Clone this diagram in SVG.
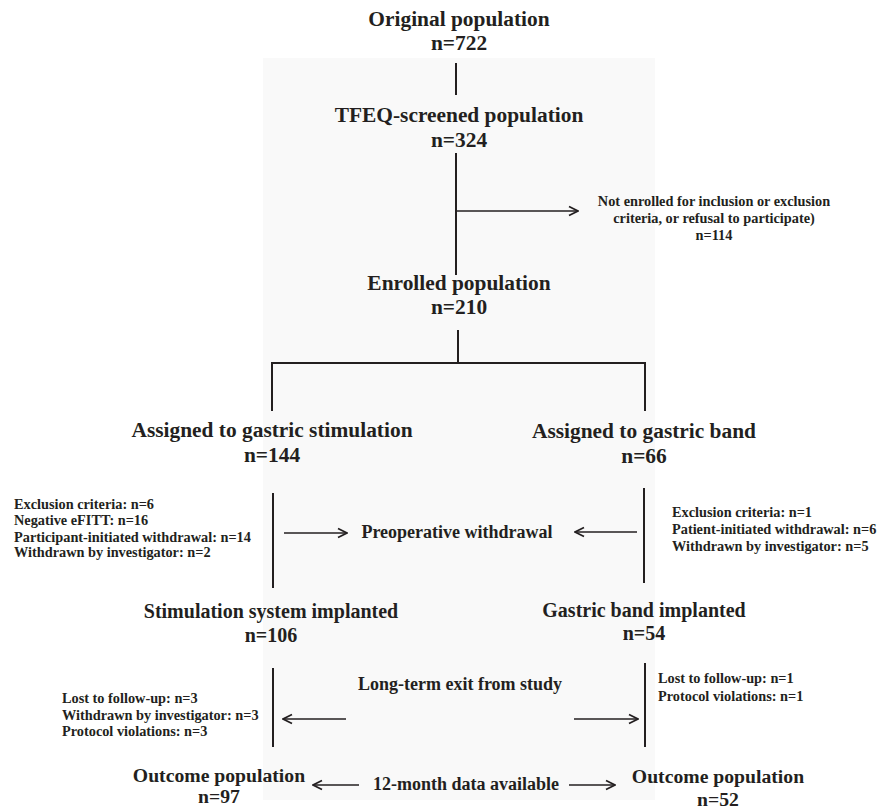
<svg xmlns="http://www.w3.org/2000/svg" width="877" height="809" viewBox="0 0 877 809">
<style>
text{font-family:'Liberation Serif','Times New Roman',serif;font-weight:bold;fill:#231f20}
.h{font-size:21.4px;text-anchor:middle}
.h2{font-size:20px;text-anchor:middle}
.h3{font-size:19.7px;text-anchor:middle}
.s{font-size:14.3px}
.sc{font-size:14.3px;text-anchor:middle}
.m{font-size:18px;text-anchor:middle}
.ln{stroke:#231f20;stroke-width:2;fill:none}
.ar{stroke:#231f20;stroke-width:1.7;fill:none;marker-end:url(#ah)}
</style>
<defs>
<marker id="ah" viewBox="0 0 12 12" refX="11" refY="6" markerWidth="12" markerHeight="12" markerUnits="userSpaceOnUse" orient="auto">
<path d="M2,1.5 L11,6 L2,10.5" fill="none" stroke="#231f20" stroke-width="1.7"/>
</marker>
</defs>
<rect width="877" height="809" fill="#ffffff"/>
<rect x="263" y="58" width="392" height="742" fill="#f9f9f9"/>
<g id="connectors">
<line class="ln" x1="456" y1="63" x2="456" y2="95"/>
<line class="ln" x1="456" y1="153" x2="456" y2="275"/>
<line class="ar" x1="457" y1="211" x2="578" y2="211"/>
<line class="ln" x1="458" y1="330" x2="458" y2="363"/>
<polyline class="ln" points="272,411 272,363 645,363 645,411"/>
<line class="ln" x1="273" y1="493" x2="273" y2="588"/>
<line class="ln" x1="644" y1="488" x2="644" y2="583"/>
<line class="ar" x1="284" y1="533" x2="347" y2="533"/>
<line class="ar" x1="637" y1="532" x2="575" y2="532"/>
<line class="ln" x1="273" y1="668" x2="273" y2="747"/>
<line class="ln" x1="645" y1="663" x2="645" y2="747"/>
<line class="ar" x1="346" y1="719" x2="283" y2="719"/>
<line class="ar" x1="574" y1="719" x2="638" y2="719"/>
<line class="ar" x1="359" y1="785" x2="313" y2="785"/>
<line class="ar" x1="569" y1="785" x2="615" y2="785"/>
</g>
<g id="original"><text class="h" x="459" y="26">Original population</text><text class="h" x="459" y="50">n=722</text></g>
<g id="tfeq"><text class="h" x="459" y="122">TFEQ-screened population</text><text class="h" x="459" y="147">n=324</text></g>
<g id="notenrolled"><text class="sc" x="714" y="206">Not enrolled for inclusion or exclusion</text><text class="sc" x="714" y="223">criteria, or refusal to participate)</text><text class="sc" x="714" y="240">n=114</text></g>
<g id="enrolled"><text class="h" x="459" y="290">Enrolled population</text><text class="h" x="459" y="314">n=210</text></g>
<g id="stim"><text class="h" x="272" y="437">Assigned to gastric stimulation</text><text class="h" x="272" y="462">n=144</text></g>
<g id="band"><text class="h" x="644" y="438">Assigned to gastric band</text><text class="h" x="644" y="463">n=66</text></g>
<g id="stimexcl"><text class="s" x="14" y="509">Exclusion criteria: n=6</text><text class="s" x="14" y="525">Negative eFITT: n=16</text><text class="s" x="14" y="542">Participant-initiated withdrawal: n=14</text><text class="s" x="14" y="557">Withdrawn by investigator: n=2</text></g>
<g id="preop"><text class="m" x="457" y="538">Preoperative withdrawal</text></g>
<g id="bandexcl"><text class="s" x="672" y="517">Exclusion criteria: n=1</text><text class="s" x="672" y="534">Patient-initiated withdrawal: n=6</text><text class="s" x="672" y="551">Withdrawn by investigator: n=5</text></g>
<g id="stimimpl"><text class="h2" x="271" y="618">Stimulation system implanted</text><text class="h2" x="271" y="642">n=106</text></g>
<g id="bandimpl"><text class="h2" x="644" y="617">Gastric band implanted</text><text class="h2" x="644" y="640">n=54</text></g>
<g id="longterm"><text class="m" x="460" y="690">Long-term exit from study</text></g>
<g id="stimexit"><text class="s" x="62" y="703">Lost to follow-up: n=3</text><text class="s" x="62" y="720">Withdrawn by investigator: n=3</text><text class="s" x="62" y="736">Protocol violations: n=3</text></g>
<g id="bandexit"><text class="s" x="658" y="683">Lost to follow-up: n=1</text><text class="s" x="658" y="701">Protocol violations: n=1</text></g>
<g id="outstim"><text class="h3" x="219" y="782">Outcome population</text><text class="h3" x="219" y="803">n=97</text></g>
<g id="data12"><text class="m" x="466" y="790">12-month data available</text></g>
<g id="outband"><text class="h3" x="718" y="783">Outcome population</text><text class="h3" x="718" y="806">n=52</text></g>
</svg>
